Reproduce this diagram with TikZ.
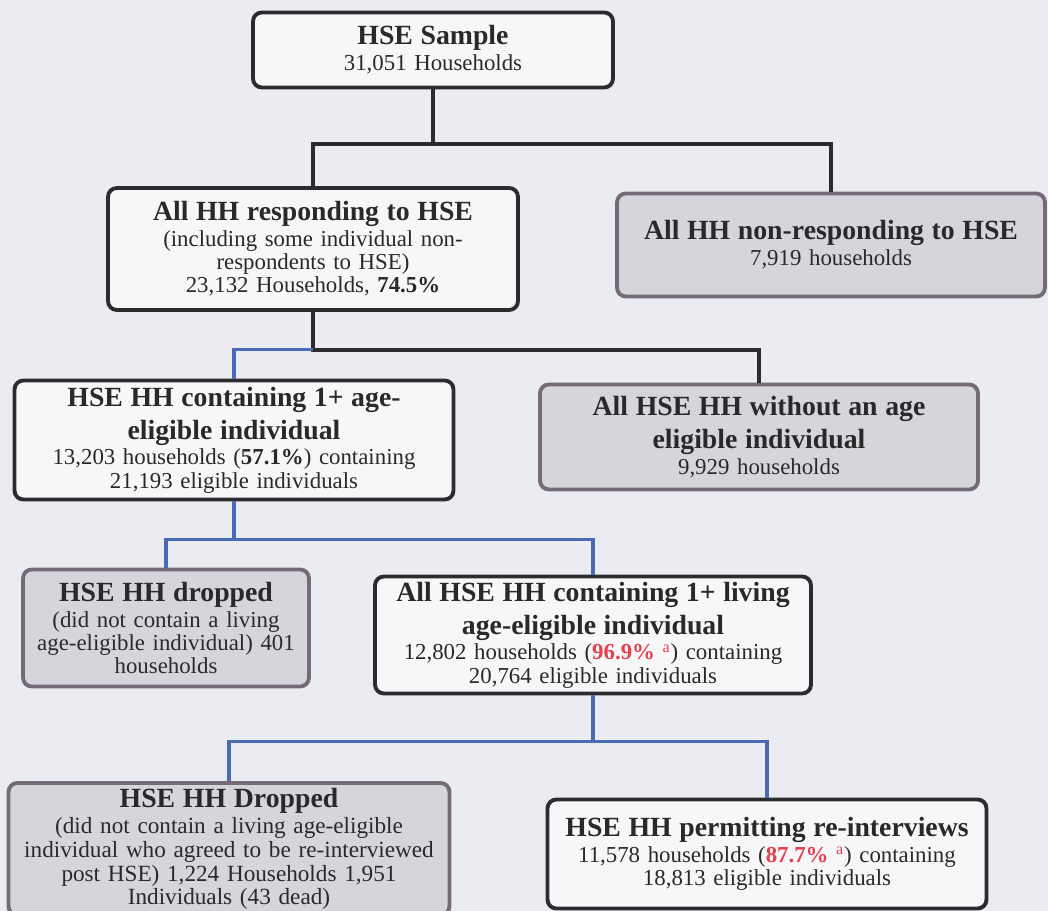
\documentclass[tikz,border=0pt]{standalone}
\usepackage{fontspec}
\setmainfont{Liberation Serif}

\definecolor{pagebg}{HTML}{EBEBF2}
\definecolor{boxline}{HTML}{2E2B2E}
\definecolor{boxfill}{HTML}{F7F7FA}
\definecolor{greyfill}{HTML}{D6D5DB}
\definecolor{greyline}{HTML}{756B76}
\definecolor{linkblue}{HTML}{4A6AB2}
\definecolor{hlred}{HTML}{E5404E}
\definecolor{inkgrey}{HTML}{2A2829}

\newcommand{\hd}[1]{{\fontsize{15.8}{18.8}\selectfont\bfseries #1\par}\vspace{1.5pt}}
\newcommand{\pct}[1]{\textcolor{hlred}{\textbf{#1}}~\textcolor{hlred}{\textsuperscript{a}}}

\begin{document}
\begin{tikzpicture}[x=0.02cm,y=-0.02cm,
  flowbox/.style={rounded corners=5pt,line width=2.2pt,align=center,inner sep=0pt,
    text=inkgrey,font=\fontsize{13}{13.2}\selectfont},
  whitebox/.style={flowbox,draw=boxline,fill=boxfill},
  greybox/.style={flowbox,draw=greyline,fill=greyfill},
  darklink/.style={line width=2.2pt,boxline},
  bluelink/.style={line width=1.8pt,linkblue}]
\clip (0,0) rectangle (1048,911);
\fill[pagebg] (0,0) rectangle (1048,911);

\node[whitebox,minimum width=7.2cm,minimum height=1.5cm,text width=7cm] (sample) at (433,50)
  {\hd{HSE Sample}31,051 Households};
\node[whitebox,minimum width=8.2cm,minimum height=2.44cm,text width=8cm] (resp) at (313,249)
  {\hd{All HH responding to HSE}(including some individual non-\\respondents to HSE)\\23,132 Households, \textbf{74.5\%}};
\node[greybox,minimum width=8.56cm,minimum height=2.06cm,text width=8.4cm] (nonresp) at (831,245)
  {\hd{All HH non-responding to HSE}7,919 households};

\node[whitebox,minimum width=8.78cm,minimum height=2.38cm,text width=8.6cm] (elig) at (234,440)
  {\hd{HSE HH containing 1+ age-\\eligible individual}13,203 households (\textbf{57.1\%}) containing\\21,193 eligible individuals};
\node[greybox,minimum width=8.76cm,minimum height=2.1cm,text width=8.6cm] (noelig) at (759,437)
  {\hd{All HSE HH without an age\\eligible individual}9,929 households};

\node[greybox,minimum width=5.72cm,minimum height=2.34cm,text width=5.6cm] (drop1) at (166,628)
  {\hd{HSE HH dropped}(did not contain a living\\age-eligible individual) 401\\households};
\node[whitebox,minimum width=8.72cm,minimum height=2.34cm,text width=8.6cm] (living) at (593,635)
  {\hd{All HSE HH containing 1+ living\\age-eligible individual}12,802 households (\pct{96.9\%}) containing\\20,764 eligible individuals};

\node[greybox,minimum width=8.82cm,minimum height=2.64cm,text width=8.7cm,
  font=\fontsize{13.2}{13.4}\selectfont] (drop2) at (229,849)
  {\hd{HSE HH Dropped}(did not contain a living age-eligible\\individual who agreed to be re-interviewed\\post HSE) 1,224 Households 1,951\\Individuals (43 dead)};
\node[whitebox,minimum width=8.78cm,minimum height=2.18cm,text width=8.6cm] (reint) at (767,854)
  {\hd{HSE HH permitting re-interviews}11,578 households (\pct{87.7\%}) containing\\18,813 eligible individuals};

% first split
\draw[darklink] (sample.south) -- ++(0,55) coordinate (j1);
\draw[darklink] (resp.north) |- (j1) -| (nonresp.north);
% responders
\draw[darklink] (resp.south) -- ++(0,38) coordinate (j2) -| (noelig.north);
\draw[bluelink] (j2) -| (elig.north);
% age eligible
\draw[bluelink] (elig.south) -- ++(0,38) coordinate (j3);
\draw[bluelink] (drop1.north) |- (j3) -| (living.north);
% living
\draw[bluelink] (living.south) -- ++(0,46) coordinate (j4);
\draw[bluelink] (drop2.north) |- (j4) -| (reint.north);
\end{tikzpicture}
\end{document}
